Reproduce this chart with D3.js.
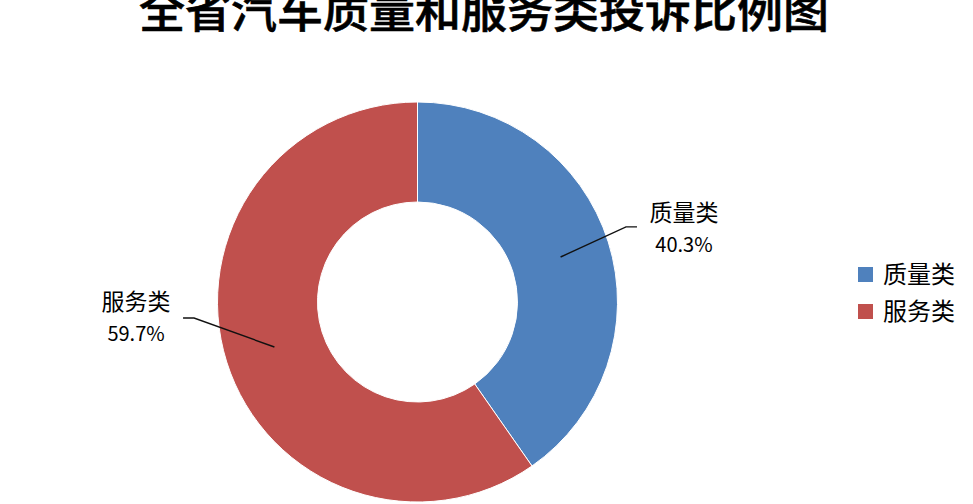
<!DOCTYPE html>
<html>
<head>
<meta charset="utf-8">
<script src="https://cdn.jsdelivr.net/npm/d3@7"></script>
<style>
  html, body { margin: 0; padding: 0; background: #fff; }
  svg { display: block; }
  text { font-family: "Noto Sans CJK SC", "Noto Sans", sans-serif; }
</style>
</head>
<body>
<svg id="chart" width="973" height="504"></svg>
<script>
// ---- data ----
const titleText = "全省汽车质量和服务类投诉比例图";
const categories = ["质量类", "服务类"];
const values = [40.3, 59.7];
const colors = ["#4F81BD", "#C0504D"];

// ---- layout ----
const W = 973, H = 504;
const cx = 417.5, cy = 302;
const outerR = 200, innerR = 100;
// label leader-line end point, in polar coords (degrees clockwise from top, radius)
const labelLayout = [
  { angle: 71.1, r: 232, side: 1 },
  { angle: 266.1, r: 235, side: -1 }
];

const svg = d3.select("#chart");

svg.append("text")
  .attr("x", 484)
  .attr("y", 27)
  .attr("text-anchor", "middle")
  .attr("font-size", 46)
  .attr("font-weight", 500)
  .attr("fill", "#000")
  .attr("stroke", "#000")
  .attr("stroke-width", 0.6)
  .text(titleText);

const data = categories.map((c, i) => ({ name: c, value: values[i], color: colors[i] }));

const pie = d3.pie().value(d => d.value).sort(null);
const arcs = pie(data);
const arc = d3.arc().innerRadius(innerR).outerRadius(outerR);
const midArc = d3.arc().innerRadius(150).outerRadius(150);

const g = svg.append("g").attr("transform", `translate(${cx},${cy})`);

g.selectAll("path.slice")
  .data(arcs)
  .enter().append("path")
  .attr("class", "slice")
  .attr("d", arc)
  .attr("fill", d => d.data.color)
  .attr("stroke", "#fff")
  .attr("stroke-width", 1);

const fmt = d3.format(".1f");

arcs.forEach((a, i) => {
  const L = labelLayout[i];
  const rad = L.angle * Math.PI / 180;
  const ex = L.r * Math.sin(rad), ey = -L.r * Math.cos(rad);
  const bx = ex - 11 * L.side, by = ey;
  const [sx, sy] = midArc.centroid(a);
  g.append("path")
    .attr("d", `M${sx},${sy}L${bx},${by}L${ex},${ey}`)
    .attr("fill", "none")
    .attr("stroke", "#111")
    .attr("stroke-width", 1.4);
  const tx = ex + L.side * 47;
  const baseY = i === 0 ? ey - 5.5 : ey - 7.5;
  g.append("text")
    .attr("x", tx).attr("y", baseY)
    .attr("text-anchor", "middle")
    .attr("font-size", 23)
    .attr("fill", "#000")
    .text(a.data.name);
  g.append("text")
    .attr("x", tx).attr("y", baseY + 30.5)
    .attr("text-anchor", "middle")
    .attr("font-size", 20)
    .attr("fill", "#000")
    .text(fmt(a.data.value) + "%");
});

// legend
const legend = svg.append("g").attr("transform", "translate(858,267)");
const items = legend.selectAll("g").data(data).enter().append("g")
  .attr("transform", (d, i) => `translate(0,${i * 37})`);
items.append("rect")
  .attr("width", 15).attr("height", 15)
  .attr("fill", d => d.color);
items.append("text")
  .attr("x", 25).attr("y", 16)
  .attr("font-size", 24)
  .attr("fill", "#000")
  .text(d => d.name);
</script>
</body>
</html>
